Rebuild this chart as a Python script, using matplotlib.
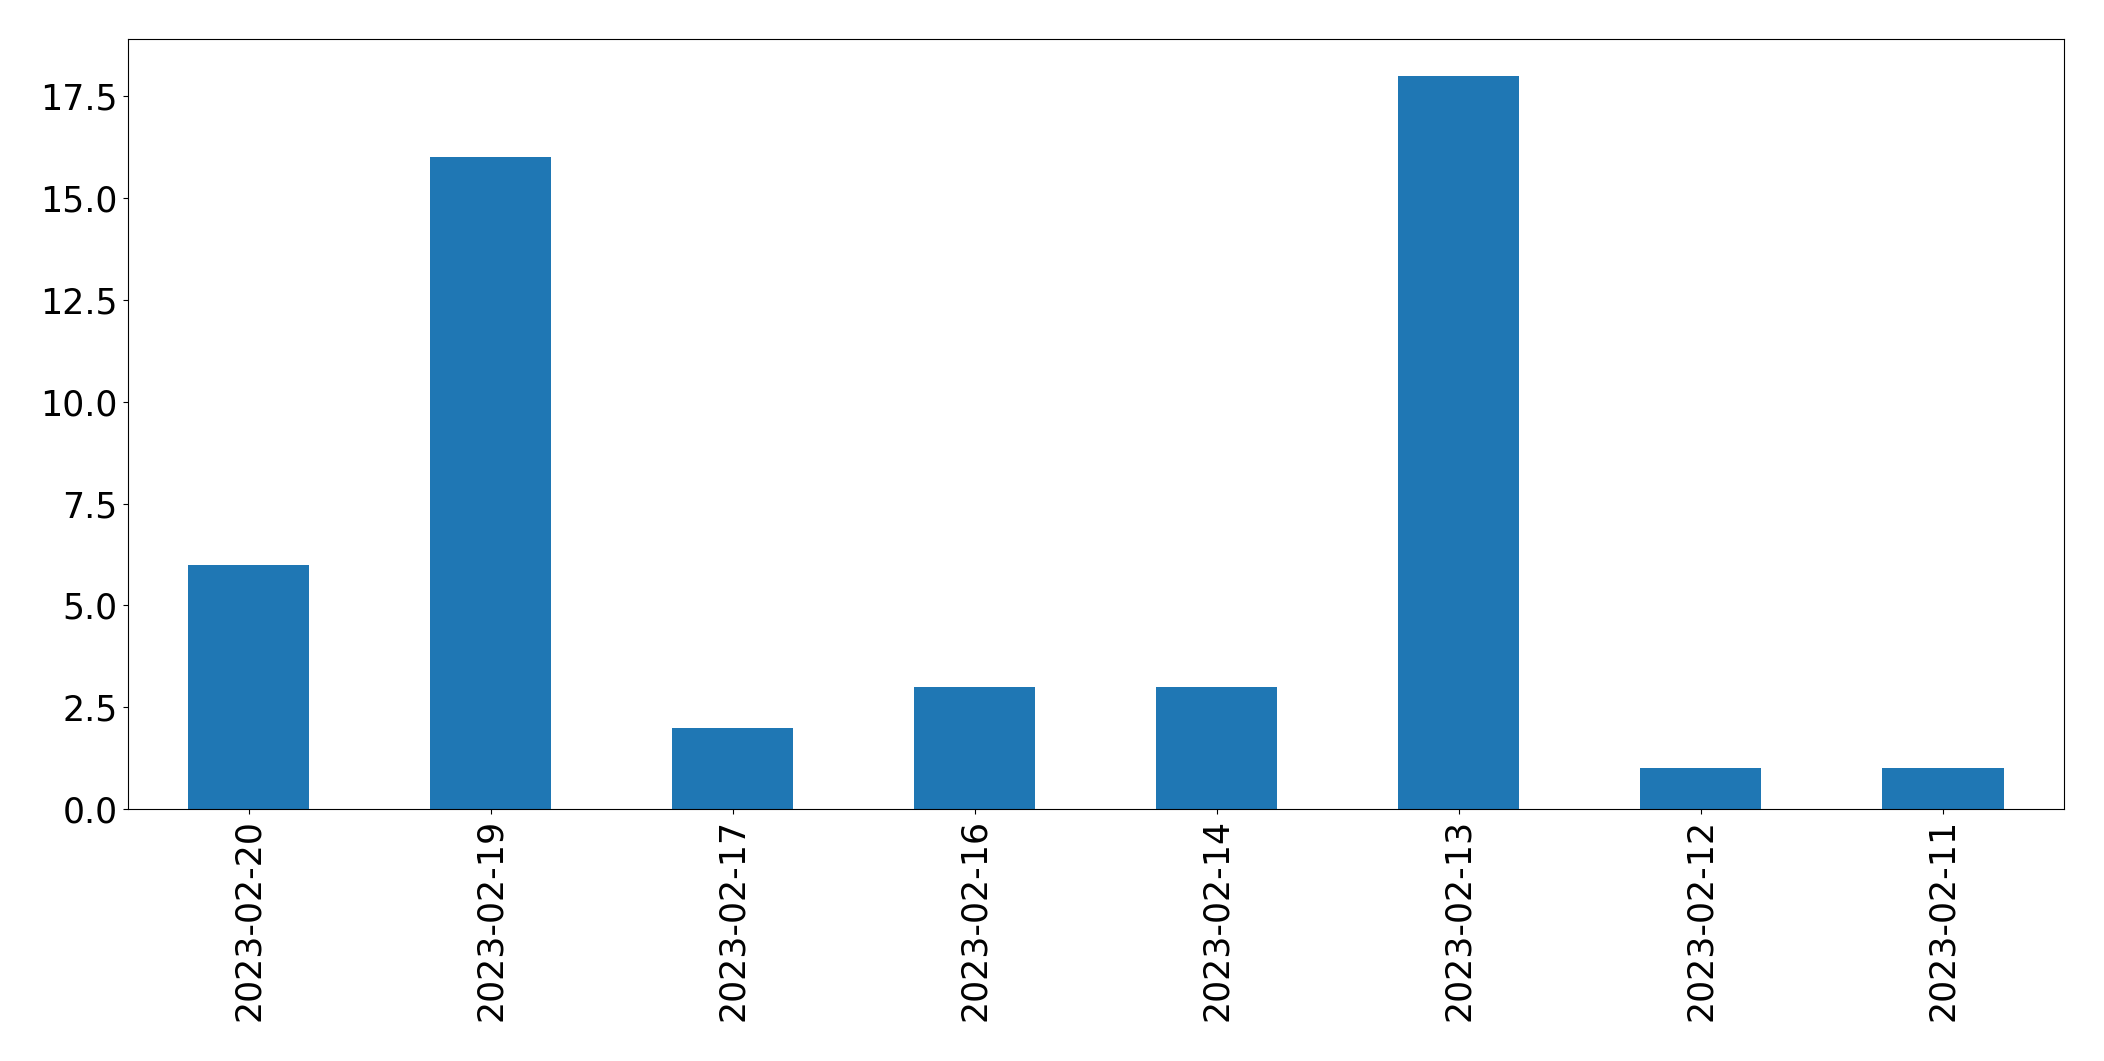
import pandas as pd
import matplotlib
matplotlib.use("Agg")
from matplotlib import pyplot as plt

dates = ['2023-02-20', '2023-02-19', '2023-02-17', '2023-02-16',
         '2023-02-14', '2023-02-13', '2023-02-12', '2023-02-11']
counts = [6, 16, 2, 3, 3, 18, 1, 1]

s = pd.Series(counts, index=dates)

fig, ax = plt.subplots(figsize=(21.04, 10.61), dpi=100)
s.plot(kind='bar', ax=ax, color='#1f77b4', fontsize=25)
fig.subplots_adjust(left=0.0606, right=0.981, top=0.963, bottom=0.2375)
fig.savefig('out.png', dpi=100)
